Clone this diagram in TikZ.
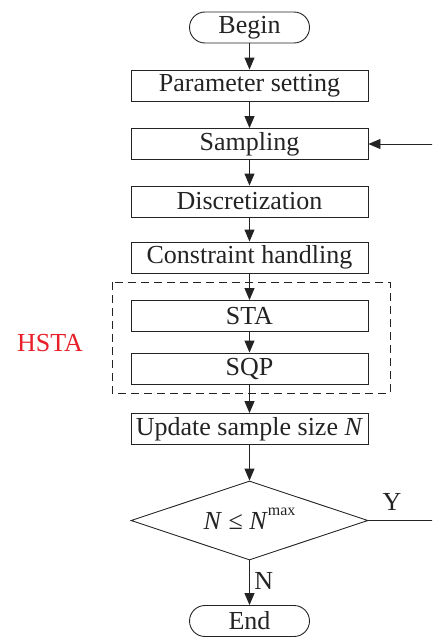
\documentclass[tikz,border=0pt]{standalone}
\usepackage{fontspec}
\setmainfont{Liberation Serif}
\usetikzlibrary{arrows.meta,shapes.geometric,calc}
\definecolor{ink}{RGB}{35,35,35}
\definecolor{hred}{RGB}{232,30,40}
\begin{document}
\begin{tikzpicture}[x=1pt,y=-1pt,
  font=\fontsize{26}{29}\selectfont,
  every node/.style={text=ink},
  stepbox/.style={draw=ink,line width=0.9pt,minimum width=237pt,minimum height=31pt,inner sep=0pt},
  termbox/.style={draw=ink,line width=0.9pt,rounded corners=15.5pt,minimum width=120pt,minimum height=31pt,inner sep=0pt},
  decide/.style={draw=ink,line width=0.9pt,shape=diamond,shape aspect=3,minimum width=237pt,minimum height=79pt,inner sep=0pt},
  flow/.style={draw=ink,line width=0.9pt,-{Triangle[length=12pt,width=10pt]}}]
\useasboundingbox (0,0) rectangle (432,637);
\clip (0,0) rectangle (432,637);

\node[termbox] (begin) at (249.5,27.5) {Begin};
\node[stepbox] (param) at (249.5,85.5) {Parameter setting};
\node[stepbox] (samp) at (249.5,144) {Sampling};
\node[stepbox] (disc) at (249.5,201.5) {Discretization};
\node[stepbox] (cons) at (249.5,257.5) {Constraint handling};
\node[stepbox] (sta) at (249.5,316) {STA};
\node[stepbox] (sqp) at (249.5,368.5) {SQP};
\node[stepbox] (upd) at (249.5,429) {Update sample size \textit{N}};
\node[decide] (cond) at (249.5,520.5) {};
\node (condtext) at (249.5,519) {\textit{N} ≤ \textit{N}\raisebox{0.55em}{\fontsize{16}{18}\selectfont max}};
\node[termbox] (end) at (249.5,621) {End};

% dashed group around the two optimisers
\draw[ink,line width=0.9pt,dash pattern=on 8pt off 5pt] (112,282) rectangle (390,393);
\node[text=hred] (hsta) at (50,343) {HSTA};

\draw[flow] (begin) -- (param);
\draw[flow] (param) -- (samp);
\draw[flow] (samp) -- (disc);
\draw[flow] (disc) -- (cons);
\draw[flow] (cons) -- (sta);
\draw[flow] (sta) -- (sqp);
\draw[flow] (sqp) -- (upd);
\draw[flow] (upd) -- (cond.north);
\draw[flow] (cond.south) -- (end) node[pos=0.45,right=1pt] {N};

% loop back while the sample size is still allowed
\coordinate (back) at (436,0);
\draw[flow] (cond.east) -- (cond.east -| back) -- (samp.east -| back) -- (samp.east);
\node (ylabel) at (392,502) {Y};
\end{tikzpicture}
\end{document}
